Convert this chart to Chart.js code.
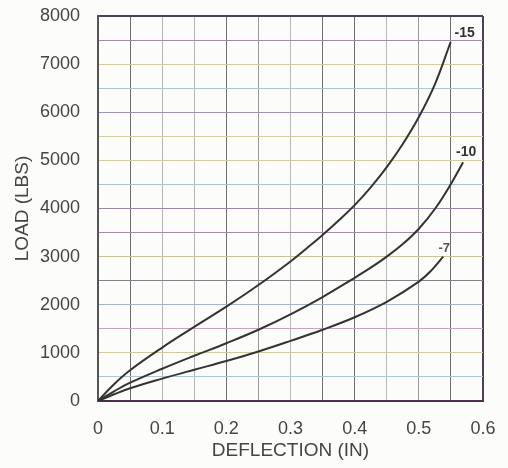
<!DOCTYPE html>
<html>
<head>
<meta charset="utf-8">
<script src="https://cdn.jsdelivr.net/npm/chart.js@4"></script>
<style>
  html, body { margin: 0; padding: 0; background: #fcfcfa; }
  #wrap { width: 508px; height: 468px; }
</style>
</head>
<body>
<div id="wrap"><canvas id="c" width="508" height="468"></canvas></div>
<script>
// ---- data ----
const curveNames = ['-15', '-10', '-7'];
const x15 = [0, 0.025, 0.05, 0.1, 0.15, 0.2, 0.25, 0.3, 0.325, 0.35, 0.375, 0.4, 0.425, 0.45, 0.475, 0.5, 0.525, 0.5496];
const y15 = [0, 350, 640, 1110, 1540, 1960, 2410, 2900, 3170, 3450, 3750, 4070, 4440, 4860, 5340, 5900, 6580, 7460];
const x10 = [0, 0.025, 0.05, 0.1, 0.15, 0.2, 0.25, 0.3, 0.35, 0.4, 0.425, 0.45, 0.475, 0.5, 0.525, 0.55, 0.569];
const y10 = [0, 200, 380, 670, 940, 1200, 1480, 1800, 2160, 2560, 2770, 3000, 3260, 3580, 3990, 4510, 4960];
const x7 = [0, 0.025, 0.05, 0.1, 0.15, 0.2, 0.25, 0.3, 0.35, 0.4, 0.45, 0.5, 0.52, 0.538];
const y7 = [0, 140, 265, 465, 650, 830, 1030, 1250, 1480, 1740, 2060, 2480, 2720, 3000];
const xTickLabels = ['0', '0.1', '0.2', '0.3', '0.4', '0.5', '0.6'];
const yTickLabels = ['0', '1000', '2000', '3000', '4000', '5000', '6000', '7000', '8000'];

// ---- styles ----
const hColors = ['#4d3f55', '#8fd3dc', '#d6cf78', '#de95cf', '#9fb3dc', '#8a7f8f', '#cfc77a', '#b07fc4',
                 '#9d83b8', '#93cfd8', '#d6d083', '#d9d184', '#a58cc9', '#94d0da', '#d8d078', '#b07fc0', '#3f4766'];
const vColors = ['#555555', '#6e6e6e', '#b5b5b5', '#b5b5b5', '#707070', '#9a9a9a', '#b8b8b8', '#707070',
                 '#6e6e6e', '#b8b8b8', '#9a9a9a', '#6e6e6e', '#4d3f55'];
const labelOffsets = [[14, -9], [3, -10], [1, -8]];
const labelFonts = ['bold 14px "Liberation Sans"', 'bold 14px "Liberation Sans"', 'bold 13px "Liberation Sans"'];

function pts(xs, ys) { return xs.map((x, i) => ({ x: x, y: ys[i] })); }
const series = [pts(x15, y15), pts(x10, y10), pts(x7, y7)];

const curveLabels = {
  id: 'curveLabels',
  afterDatasetsDraw(chart) {
    const ctx = chart.ctx;
    const xs = chart.scales.x, ys = chart.scales.y;
    ctx.save();
    ctx.textAlign = 'center';
    ctx.textBaseline = 'middle';
    series.forEach((s, i) => {
      const last = s[s.length - 1];
      ctx.font = labelFonts[i];
      ctx.fillStyle = i === 2 ? '#555555' : '#333333';
      ctx.fillText(curveNames[i], xs.getPixelForValue(last.x) + labelOffsets[i][0],
                   ys.getPixelForValue(last.y) + labelOffsets[i][1]);
    });
    ctx.restore();
  }
};

const tickFont = { family: '"Liberation Sans", Arial, sans-serif', size: 18 };
const titleFont = { family: '"Liberation Sans", Arial, sans-serif', size: 19 };

new Chart(document.getElementById('c'), {
  type: 'scatter',
  data: {
    datasets: series.map((s, i) => ({
      label: curveNames[i],
      data: s,
      showLine: true,
      borderColor: '#333333',
      borderWidth: 2,
      pointRadius: 0,
      tension: 0.4,
      fill: false
    }))
  },
  options: {
    responsive: false,
    animation: false,
    layout: { padding: { left: 0, right: 25, top: 16, bottom: 0 } },
    plugins: { legend: { display: false }, tooltip: { enabled: false } },
    scales: {
      x: {
        type: 'linear',
        min: 0, max: 0.6,
        afterFit(scale) { scale.height = 67; scale.paddingLeft = 0; scale.paddingRight = 0; },
        ticks: {
          stepSize: 0.05, maxTicksLimit: 20, autoSkip: false, maxRotation: 0,
          padding: 17, color: '#454545', font: tickFont,
          callback(value, index) { return index % 2 === 0 ? xTickLabels[index / 2] : ''; }
        },
        grid: {
          drawTicks: false,
          color: ctx => vColors[ctx.index] || '#999',
          lineWidth: ctx => (ctx.index === 0 || ctx.index === 12) ? 2 : 1
        },
        border: { display: true, color: '#4d2f4d', width: 2 },
        title: { display: true, text: 'DEFLECTION (IN)', color: '#454545', font: titleFont, padding: { top: 0, bottom: 6 } }
      },
      y: {
        type: 'linear',
        min: 0, max: 8000,
        afterFit(scale) { scale.width = 98; scale.paddingTop = 0; scale.paddingBottom = 0; },
        ticks: {
          stepSize: 500, maxTicksLimit: 20, autoSkip: false,
          padding: 18, color: '#454545', font: tickFont,
          callback(value, index) { return index % 2 === 0 ? yTickLabels[index / 2] : ''; }
        },
        grid: {
          drawTicks: false,
          color: ctx => hColors[ctx.index] || '#999',
          lineWidth: ctx => (ctx.index === 0 || ctx.index === 16) ? 2 : 1
        },
        border: { display: true, color: '#555555', width: 2 },
        title: { display: true, text: 'LOAD (LBS)', color: '#454545', font: titleFont, padding: { top: 11, bottom: 0 } }
      }
    }
  },
  plugins: [curveLabels]
});
</script>
</body>
</html>
